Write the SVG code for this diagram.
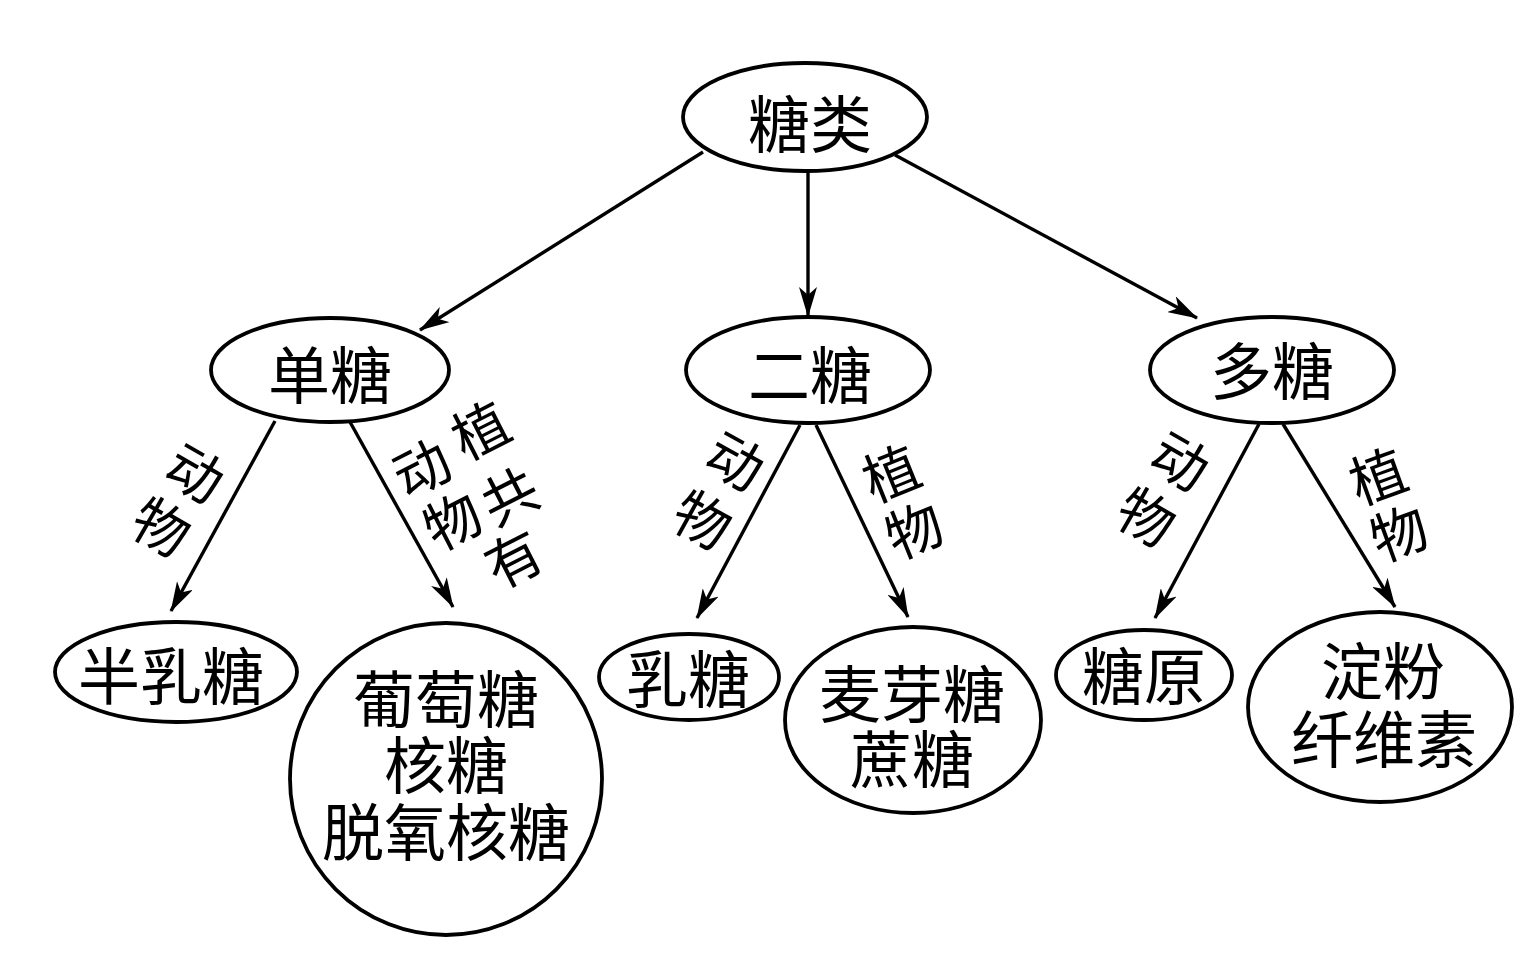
<svg xmlns="http://www.w3.org/2000/svg" width="1535" height="956" viewBox="0 0 1535 956">
<defs>
<style>
.shape{fill:#fff;stroke:#000;stroke-width:3.8}
.t{font-family:"Noto Sans CJK SC","Noto Sans CJK JP",sans-serif;font-size:62px;fill:#000;text-anchor:middle;dominant-baseline:central}
.lb{font-family:"Noto Sans CJK SC","Noto Sans CJK JP",sans-serif;font-size:56px;fill:#000;text-anchor:middle;dominant-baseline:central}
.edge{stroke:#000;stroke-width:3.4;fill:none;marker-end:url(#arr)}
</style>
<marker id="arr" viewBox="0 0 30 18" refX="29" refY="9" markerWidth="30" markerHeight="18" markerUnits="userSpaceOnUse" orient="auto">
<path d="M30,9 L0,0 L8,9 L0,18 Z" fill="#000"/>
</marker>
</defs>
<rect width="1535" height="956" fill="#fff"/>
<g id="connectors">
<line class="edge" x1="703" y1="152" x2="420" y2="330"/>
<line class="edge" x1="808" y1="170" x2="808" y2="316"/>
<line class="edge" x1="895" y1="155" x2="1197" y2="318"/>
<line class="edge" x1="275" y1="421" x2="171" y2="611"/>
<line class="edge" x1="350" y1="422" x2="453" y2="607"/>
<line class="edge" x1="800" y1="425" x2="697" y2="618"/>
<line class="edge" x1="816" y1="425" x2="908" y2="617"/>
<line class="edge" x1="1259" y1="424" x2="1155" y2="618"/>
<line class="edge" x1="1283" y1="424" x2="1395" y2="607"/>
</g>
<g id="labels">
<text class="lb" transform="translate(197,470) rotate(30)">动</text>
<text class="lb" transform="translate(163,524) rotate(30)">物</text>
<text class="lb" transform="translate(420,465) rotate(-27)">动</text>
<text class="lb" transform="translate(479,427) rotate(-27)">植</text>
<text class="lb" transform="translate(451,518) rotate(-27)">物</text>
<text class="lb" transform="translate(508,493) rotate(-27)">共</text>
<text class="lb" transform="translate(512,556) rotate(-27)">有</text>
<text class="lb" transform="translate(737,458) rotate(29)">动</text>
<text class="lb" transform="translate(704,517) rotate(29)">物</text>
<text class="lb" transform="translate(890,470) rotate(-22)">植</text>
<text class="lb" transform="translate(913,527) rotate(-22)">物</text>
<text class="lb" transform="translate(1182,458) rotate(30)">动</text>
<text class="lb" transform="translate(1148,514) rotate(30)">物</text>
<text class="lb" transform="translate(1377,473) rotate(-20)">植</text>
<text class="lb" transform="translate(1398,530) rotate(-20)">物</text>
</g>
<g id="node-tanglei">
<ellipse class="shape" cx="805" cy="117" rx="122" ry="54"/>
<text class="t" x="810" y="121">糖类</text>
</g>
<g id="node-dantang">
<ellipse class="shape" cx="330" cy="370" rx="119" ry="52"/>
<text class="t" x="330" y="372">单糖</text>
</g>
<g id="node-ertang">
<ellipse class="shape" cx="808" cy="370" rx="122" ry="53"/>
<text class="t" x="810" y="372">二糖</text>
</g>
<g id="node-duotang">
<ellipse class="shape" cx="1272" cy="370" rx="122" ry="53"/>
<text class="t" x="1272" y="368">多糖</text>
</g>
<g id="node-banrutang">
<ellipse class="shape" cx="176" cy="672" rx="121" ry="50"/>
<text class="t" x="171" y="673">半乳糖</text>
</g>
<g id="node-putaotang">
<circle class="shape" cx="446" cy="779" r="156"/>
<text class="t" x="446" y="696">葡萄糖<tspan x="446" dy="66">核糖</tspan><tspan x="446" dy="67">脱氧核糖</tspan></text>
</g>
<g id="node-rutang">
<ellipse class="shape" cx="689" cy="677" rx="90" ry="43"/>
<text class="t" x="688" y="676">乳糖</text>
</g>
<g id="node-maiyatang">
<ellipse class="shape" cx="913" cy="720" rx="128" ry="93"/>
<text class="t" x="912" y="691">麦芽糖<tspan x="912" dy="65">蔗糖</tspan></text>
</g>
<g id="node-tangyuan">
<ellipse class="shape" cx="1144" cy="675" rx="88" ry="45"/>
<text class="t" x="1144" y="673">糖原</text>
</g>
<g id="node-dianfen">
<ellipse class="shape" cx="1380" cy="707" rx="132" ry="95"/>
<text class="t" x="1383" y="668">淀粉<tspan x="1384" dy="68">纤维素</tspan></text>
</g>
</svg>
